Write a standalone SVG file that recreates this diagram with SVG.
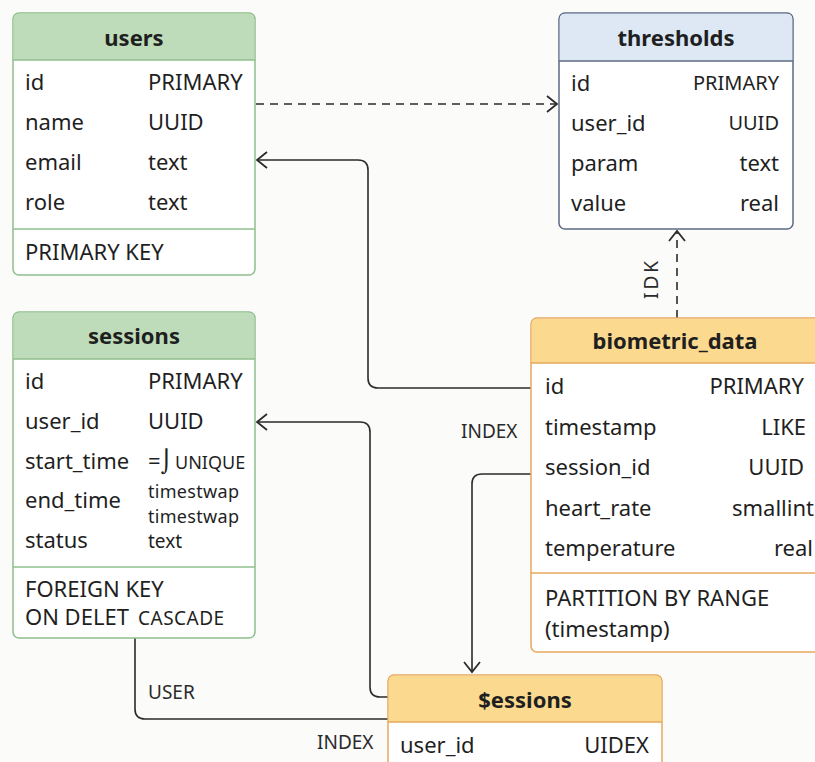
<svg xmlns="http://www.w3.org/2000/svg" width="815" height="762" viewBox="0 0 815 762">
  <defs>
    <marker id="chev" viewBox="-12 -9 14 18" markerWidth="14" markerHeight="18" refX="0" refY="0" orient="auto" markerUnits="userSpaceOnUse">
      <path d="M-10,-8 L0,0 L-10,8" fill="none" stroke="#2b2b2b" stroke-width="1.8" stroke-linejoin="miter"/>
    </marker>
  </defs>
  <style>
    text { font-family: "Noto Sans", "Open Sans", "DejaVu Sans", sans-serif; fill: #1f1f1f; }
    .title { font-size: 22px; font-weight: 700; text-anchor: middle; }
    .f { font-size: 22px; }
    .t20 { font-size: 20px; }
    .sm { font-size: 18px; }
    .tw { font-size: 19px; }
    .tw2 { font-size: 18px; letter-spacing: 0.3px; }
    .r { text-anchor: end; }
    .lbl { font-size: 19px; fill: #2a2a2a; }
    .box { fill: #ffffff; stroke-width: 1.5; }
    .green { stroke: #8fbf8c; }
    .green-h { fill: #bedcb9; }
    .blue { stroke: #5c6b85; }
    .blue-h { fill: #dde8f4; }
    .orange { stroke: #e6a85c; }
    .orange-h { fill: #fbd98f; }
    .conn { fill: none; stroke: #2b2b2b; stroke-width: 1.6; }
    .dash { stroke-dasharray: 8 6; }
  </style>
  <rect width="815" height="762" fill="#fbfbfa"/>

  <!-- connectors -->
  <g id="connectors">
    <path class="conn dash" d="M256,104 H557" marker-end="url(#chev)"/>
    <path class="conn dash" d="M677,318 V231" marker-end="url(#chev)"/>
    <path class="conn" d="M531,388 H378 Q368,388 368,378 V170 Q368,160 358,160 H257" marker-end="url(#chev)"/>
    <path class="conn" d="M388,697 H380 Q370,697 370,687 V432 Q370,422 360,422 H257" marker-end="url(#chev)"/>
    <path class="conn" d="M531,474 H482 Q472,474 472,484 V672" marker-end="url(#chev)"/>
    <path class="conn" d="M135,638 V709 Q135,719 145,719 H388"/>
    <text class="lbl" x="461" y="438">INDEX</text>
    <text class="lbl" x="148" y="699">USER</text>
    <text class="lbl" x="317" y="749">INDEX</text>
    <text class="lbl" font-size="13" letter-spacing="3" transform="translate(658,299) rotate(-90)">IDK</text>
  </g>

  <!-- users -->
  <g id="users">
    <rect class="box green" x="13" y="13" width="242" height="262" rx="6"/>
    <path class="green-h" d="M13.75,60 V19 Q13.75,13.75 19,13.75 H249 Q254.25,13.75 254.25,19 V60 Z"/>
    <line class="green" x1="13" y1="60" x2="255" y2="60" stroke-width="1.5"/>
    <line class="green" x1="13" y1="229" x2="255" y2="229" stroke-width="1.5"/>
    <text class="title" x="134" y="46">users</text>
    <text class="f" x="25" y="90">id</text><text class="f" x="148" y="90">PRIMARY</text>
    <text class="f" x="25" y="130">name</text><text class="f" x="148" y="130">UUID</text>
    <text class="f" x="25" y="170">email</text><text class="f" x="148" y="170">text</text>
    <text class="f" x="25" y="210">role</text><text class="f" x="148" y="210">text</text>
    <text class="f" x="25" y="260">PRIMARY KEY</text>
  </g>

  <!-- thresholds -->
  <g id="thresholds">
    <rect class="box blue" x="559" y="13" width="234" height="216" rx="6"/>
    <path class="blue-h" d="M559.75,61 V19 Q559.75,13.75 565,13.75 H787 Q792.25,13.75 792.25,19 V61 Z"/>
    <line class="blue" x1="559" y1="61" x2="793" y2="61" stroke-width="1.5"/>
    <text class="title" x="676" y="46">thresholds</text>
    <text class="f" x="571" y="91">id</text><text class="t20 r" x="779" y="90">PRIMARY</text>
    <text class="f" x="571" y="131">user_id</text><text class="t20 r" x="779" y="130">UUID</text>
    <text class="f" x="571" y="171">param</text><text class="f r" x="779" y="171">text</text>
    <text class="f" x="571" y="211">value</text><text class="f r" x="779" y="211">real</text>
  </g>

  <!-- sessions -->
  <g id="sessions">
    <rect class="box green" x="13" y="312" width="242" height="326" rx="6"/>
    <path class="green-h" d="M13.75,359 V318 Q13.75,312.75 19,312.75 H249 Q254.25,312.75 254.25,318 V359 Z"/>
    <line class="green" x1="13" y1="359" x2="255" y2="359" stroke-width="1.5"/>
    <line class="green" x1="13" y1="567" x2="255" y2="567" stroke-width="1.5"/>
    <text class="title" x="134" y="344">sessions</text>
    <text class="f" x="25" y="389">id</text><text class="f" x="148" y="389">PRIMARY</text>
    <text class="f" x="25" y="429">user_id</text><text class="f" x="148" y="429">UUID</text>
    <text class="f" x="25" y="469">start_time</text><text class="f" x="148" y="469">=⌡</text><text class="sm" x="175" y="469">UNIQUE</text>
    <text class="f" x="25" y="508">end_time</text>
    <text class="tw2" x="148" y="498">timestwap</text>
    <text class="tw2" x="148" y="523">timestwap</text>
    <text class="f" x="25" y="548">status</text><text class="tw" x="148" y="548">text</text>
    <text class="f" x="25" y="597">FOREIGN KEY</text>
    <text class="f" x="25" y="625">ON DELET</text><text class="tw" x="138" y="625" letter-spacing="0.5">CASCADE</text>
  </g>

  <!-- biometric_data -->
  <g id="biometric_data">
    <rect class="box orange" x="531" y="318" width="290" height="334" rx="6"/>
    <path class="orange-h" d="M531.75,363 V324 Q531.75,318.75 537,318.75 H820 V363 Z"/>
    <line class="orange" x1="531" y1="363" x2="821" y2="363" stroke-width="1.5"/>
    <line class="orange" x1="531" y1="573" x2="821" y2="573" stroke-width="1.5"/>
    <text class="title" x="675" y="349">biometric_data</text>
    <text class="f" x="545" y="394">id</text><text class="f r" x="804" y="394">PRIMARY</text>
    <text class="f" x="545" y="435">timestamp</text><text class="f r" x="806" y="435">LIKE</text>
    <text class="f" x="545" y="475">session_id</text><text class="f r" x="804" y="475">UUID</text>
    <text class="f" x="545" y="516">heart_rate</text><text class="f r" x="814" y="516">smallint</text>
    <text class="f" x="545" y="556">temperature</text><text class="f r" x="813" y="556">real</text>
    <text class="f" x="545" y="606">PARTITION BY RANGE</text>
    <text class="f" x="545" y="637">(timestamp)</text>
  </g>

  <!-- $sessions -->
  <g id="dollar_sessions">
    <rect class="box orange" x="388" y="675" width="274" height="100" rx="6"/>
    <path class="orange-h" d="M388.75,722 V681 Q388.75,675.75 394,675.75 H656 Q661.25,675.75 661.25,681 V722 Z"/>
    <line class="orange" x1="388" y1="722" x2="662" y2="722" stroke-width="1.5"/>
    <text class="title" x="525" y="708">$essions</text>
    <text class="f" x="400" y="753">user_id</text><text class="f r" x="649" y="753" font-size="21">UIDEX</text>
  </g>
</svg>
